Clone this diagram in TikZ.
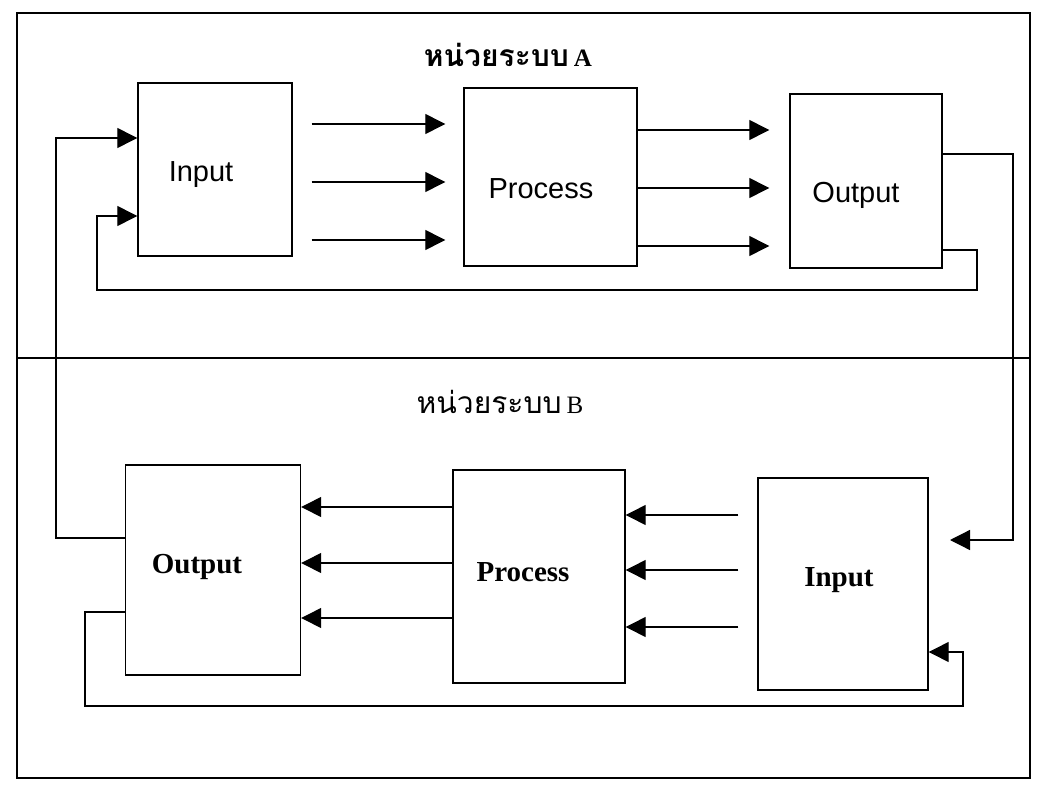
\documentclass[tikz,border=0pt]{standalone}
\usepackage{fontspec}
\setmainfont{Liberation Serif}
\newfontfamily\sansA{Liberation Sans}
\newfontfamily\thai[Script=Thai]{Loma}
\usetikzlibrary{arrows.meta}
\tikzset{
  box/.style={draw, line width=1.4pt, inner sep=0pt},
  line/.style={line width=1.3pt},
  arr/.style={line width=1.3pt, -{Triangle[length=20pt,width=20pt]}},
  labA/.style={font=\sansA\fontsize{29}{33}\selectfont, inner sep=0pt},
  labB/.style={font=\bfseries\fontsize{29}{33}\selectfont, inner sep=0pt},
  title/.style={inner sep=0pt, font=\fontsize{30}{34}\selectfont},
}
\begin{document}
\begin{tikzpicture}[x=1pt,y=-1pt]
\useasboundingbox (0,0) rectangle (1045,795);
% frame and divider
\draw[line] (17,13) rectangle (1030,778);
\coordinate (dl) at (17,358);
\coordinate (dr) at (1030,358);
\draw[line] (dl) -- (dr);
% titles
\node[title] (tA) at (508,55) {\thai\bfseries หน่วยระบบ\,\rmfamily\bfseries\fontsize{25}{28}\selectfont A};
\node[title] (tB) at (500,402) {\thai หน่วยระบบ\,\rmfamily\fontsize{25}{28}\selectfont B};
% system A boxes
\node[box, minimum width=154pt, minimum height=173pt] (inA) at (215,169.5) {};
\node[box, minimum width=173pt, minimum height=178pt] (prA) at (550.5,177) {};
\node[box, minimum width=152pt, minimum height=174pt] (ouA) at (866,181) {};
\node[labA] (tinA) at (201,175) {Input};
\node[labA] (tprA) at (541,189) {Process};
\node[labA] (touA) at (856,195) {Output};
% system B boxes
\node[box, minimum width=175pt, minimum height=210pt] (ouB) at (213,570) {};
\node[box, minimum width=172pt, minimum height=213pt] (prB) at (539,576.5) {};
\node[box, minimum width=170pt, minimum height=212pt] (inB) at (843,584) {};
\node[labB] (touB) at (197,567) {Output};
\node[labB] (tprB) at (523,572) {Process};
\node[labB] (tinB) at (839,580) {Input};
% arrows A: input -> process
\foreach \y in {124,182,240}
  \draw[arr, shorten <=19pt, shorten >=18pt] (inA.east |- 0,\y) -- (prA.west |- 0,\y);
% arrows A: process -> output
\foreach \y in {130,188,246}
  \draw[arr, shorten >=20pt] (prA.east |- 0,\y) -- (ouA.west |- 0,\y);
% arrows B: process -> output
\foreach \y in {507,563,618}
  \draw[arr] (prB.west |- 0,\y) -- (ouB.east |- 0,\y);
% arrows B: input -> process
\foreach \y in {515,570,627}
  \draw[arr, shorten <=19pt] (inB.west |- 0,\y) -- (prB.east |- 0,\y);
% feedback loops
\coordinate (f1) at (1013,154);
\coordinate (f1e) at (950,540);
\draw[arr] (ouA.east |- f1) -- (f1) |- (f1e);
\coordinate (f2) at (977,250);
\coordinate (f2b) at (97,290);
\draw[arr] (ouA.east |- f2) -| (f2 |- f2b) -- (f2b) |- (inA.west |- 0,216);
\coordinate (f3) at (56,538);
\draw[arr] (ouB.west |- f3) -- (f3) |- (inA.west |- 0,138);
\coordinate (f4) at (85,612);
\coordinate (f4b) at (963,706);
\draw[arr] (ouB.west |- f4) -- (f4) |- (f4b) |- (inB.east |- 0,652);
\end{tikzpicture}
\end{document}
